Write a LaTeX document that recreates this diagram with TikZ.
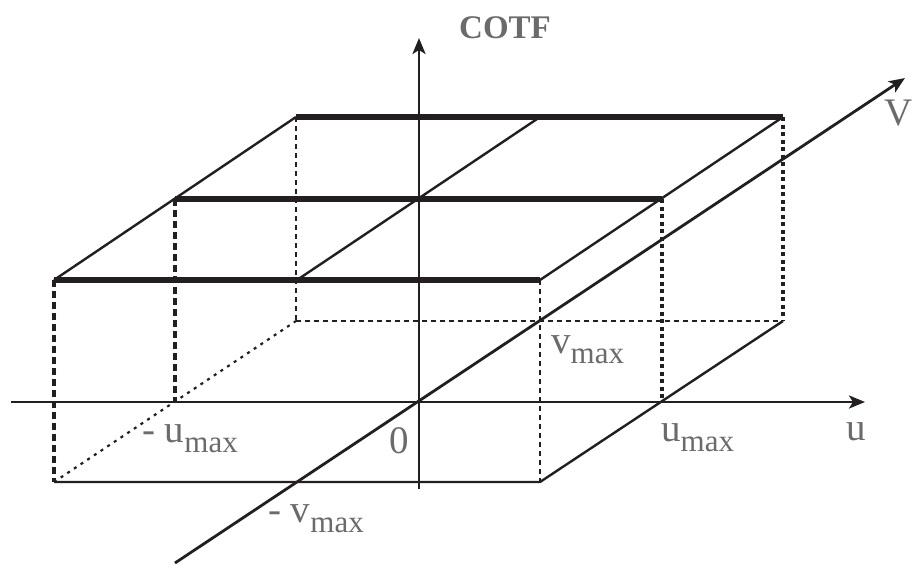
\documentclass[tikz,border=0pt]{standalone}
\usepackage{fontspec}
\setmainfont{Liberation Serif}
\usetikzlibrary{arrows.meta}
\definecolor{lblgray}{HTML}{6B6B6B}
\definecolor{ink}{HTML}{231F20}
\newcommand{\bigtxt}{\fontsize{39}{40}\selectfont}
\newcommand{\subtxt}{\fontsize{31}{32}\selectfont}
\newcommand{\withsub}[2]{{\bigtxt #1}\raisebox{-10pt}{\subtxt #2}}
\begin{document}
\begin{tikzpicture}[x=1pt,y=-1pt,
  axis/.style={draw=ink,line width=2.8pt,-{Stealth[length=16pt,width=13pt,inset=4pt]}},
  plain/.style={draw=ink,line width=2.4pt},
  thickedge/.style={draw=ink,line width=6.5pt},
  dashA/.style={draw=ink,line width=3.2pt,dash pattern=on 7pt off 4pt},
  dashB/.style={draw=ink,line width=2pt,dash pattern=on 5pt off 4pt},
  dotC/.style={draw=ink,line width=4.8pt,dash pattern=on 4pt off 3.5pt},
  dotD/.style={draw=ink,line width=2.2pt,dash pattern=on 3pt off 5pt},
  lbl/.style={text=lblgray,inner sep=0pt,anchor=base west}]
\useasboundingbox (0,0) rectangle (913,563);
% coordinates
\coordinate (O) at (419,402);
\coordinate (uL) at (11,402);
\coordinate (uR) at (865,402);
\coordinate (zB) at (419,489);
\coordinate (zT) at (419,38);
\coordinate (vB) at (175,563);
\coordinate (vT) at (905,78);
% top surface
\coordinate (FLT) at (54,280);
\coordinate (FRT) at (540,280);
\coordinate (BLT) at (296,117);
\coordinate (BRT) at (783,117);
\coordinate (MLT) at (175,199);
\coordinate (MRT) at (662,199);
\coordinate (FMT) at (297,280);
\coordinate (BMT) at (540,117);
% bottom
\coordinate (FLB) at (54,482);
\coordinate (FRB) at (540,482);
\coordinate (BLB) at (296,321);
\coordinate (BRB) at (783,321);
\coordinate (MLB) at (175,402);
\coordinate (MRB) at (662,402);
% hidden / dashed verticals
\path[dashA] (FLT) -- (FLB);
\path[dashA] (MLT) -- (MLB);
\path[dashB] (BLT) -- (BLB);
\path[dashB] (FRT) -- (FRB);
\path[dotC] (MRT) -- (MRB);
\path[dotC] (BRT) -- (BRB);
\path[dashB] (BLB) -- (BRB);
\path[dotD] (FLB) -- (BLB);
% bottom solid edges
\path[plain] (FLB) -- (FRB) -- (BRB);
% top surface diagonals
\path[plain] (FLT) -- (BLT);
\path[plain] (FMT) -- (BMT);
\path[plain] (FRT) -- (BRT);
% axes
\path[axis] (uL) -- (uR);
\path[axis] (zB) -- (zT);
\path[axis] (vB) -- (vT);
% thick lines
\path[thickedge] (FLT) -- (FRT);
\path[thickedge] (MLT) -- (MRT);
\path[thickedge] (BLT) -- (BRT);
% labels
\node[lbl,font=\fontsize{33}{34}\selectfont\bfseries] (cotf) at (459,38) {COTF};
\node[lbl] (vlab) at (884,125) {\bigtxt V};
\node[lbl] (ulab) at (846,440) {\bigtxt u};
\node[lbl] (zero) at (389,453) {\bigtxt 0};
\node[lbl] (umax) at (661,441) {\withsub{u}{max}};
\node[lbl] (vmax) at (551,353) {\withsub{v}{max}};
\node[lbl] (mumax) at (142,442) {\withsub{- u}{max}};
\node[lbl] (mvmax) at (268,522) {\withsub{- v}{max}};
\end{tikzpicture}
\end{document}
